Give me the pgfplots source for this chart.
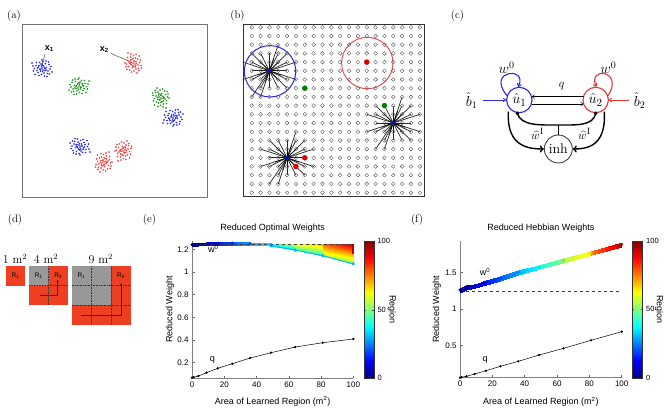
\documentclass[border=0pt]{standalone}
\usepackage{pgfplots}
\pgfplotsset{compat=1.18}
\usepackage{pgfplotstable}
\usepackage{fontspec}
\newfontfamily\hv{Liberation Sans}
\usetikzlibrary{arrows.meta}
\definecolor{dred}{RGB}{238,64,32}
\definecolor{sqgray}{RGB}{152,152,152}
\definecolor{cblue}{RGB}{40,40,235}
\definecolor{cred}{RGB}{232,52,52}
\definecolor{pblue}{RGB}{45,45,240}
\definecolor{pred}{RGB}{240,70,70}
\definecolor{pgreen}{RGB}{40,150,40}
\definecolor{ecyan}{rgb}{0,0.72,1}
\definecolor{dkred}{rgb}{0.7,0,0}
\pgfplotsset{/pgf/number format/assume math mode=true}
\newcommand{\tf}{\hv\fontsize{8}{9}\selectfont}
\newcommand{\lf}{\hv\fontsize{9}{10}\selectfont}

% cluster offsets (px)
\pgfplotstableread{
dx dy
0 0
1.5 -2
-2 1
3 2.5
-3.5 -1
0.5 3.5
-1 -4
4.5 -0.5
-5 2.5
2 5
-2.5 -5.5
6 3
-6 -2.5
1 -6.5
-0.5 6.5
7 -3.5
-7.5 0.5
3.5 -4.5
-4 4.5
5.5 5.5
-5.5 -5.5
8 1
-8.5 3
0 -8
2.5 8
-3 7.5
4 -7
9 -1.5
-9 -2
6.5 -6
-1.5 1.5
2.5 -0.5
-0.5 -2
1 2
-3 -2.5
3 0.5
-1.5 3
0.5 -3
4 2
-4.5 0
10 4
-7 6.5
5 8.5
-10 -5
7.5 6
}\clofs

% star line offsets (px)
\pgfplotstableread{
u v
8.85 0
-8.85 0
0 8.7
0 -8.7
8.85 8.7
8.85 -8.7
-8.85 8.7
-8.85 -8.7
17.7 0
-17.7 0
0 17.4
0 -17.4
17.7 8.7
17.7 -8.7
-17.7 8.7
-17.7 -8.7
8.85 17.4
8.85 -17.4
-8.85 17.4
-8.85 -17.4
26.55 8.7
-26.55 -8.7
8.85 -26.1
-8.85 26.1
26.55 -8.7
-17.7 26.1
17.7 17.4
-17.7 -17.4
-26.55 8.7
17.7 -17.4
4.4 -12
-12 4.4
12 4.4
-4.4 12
}\starofs

% grid columns (px)
\pgfplotstableread{
x y
251.7 0
260.55 0
269.4 0
278.25 0
287.1 0
295.95 0
304.8 0
313.65 0
322.5 0
331.35 0
340.2 0
349.05 0
357.9 0
366.75 0
375.6 0
384.45 0
393.3 0
402.15 0
411.0 0
419.85 0
}\gridx

\begin{document}
\begin{tikzpicture}
% ================= overlay axis for panels a-d =================
\begin{axis}[at={(0pt,0pt)}, anchor=south west, scale only axis,
  width=664pt, height=408pt, xmin=0, xmax=664, ymin=0, ymax=408,
  y dir=reverse, hide axis, clip=false]
% panel labels
\node[font=\fontsize{11}{12}\selectfont] at (axis cs:14,16) {(a)};
\node[font=\fontsize{11}{12}\selectfont] at (axis cs:237.5,16) {(b)};
\node[font=\fontsize{11}{12}\selectfont] at (axis cs:457.5,16) {(c)};
\node[font=\fontsize{11}{12}\selectfont] at (axis cs:15,219.7) {(d)};
\node[font=\fontsize{11}{12}\selectfont] at (axis cs:149.5,219.7) {(e)};
\node[font=\fontsize{11}{12}\selectfont] at (axis cs:417,219.7) {(f)};

% ---- (a) ----
\addplot[black!55, line width=0.8pt] coordinates {(22.7,24) (207,24) (207,197) (22.7,197) (22.7,24)};
\addplot[only marks, mark=*, mark size=0.55pt, pblue] table[x expr=\thisrow{dx}+42, y expr=\thisrow{dy}+68] {\clofs};
\addplot[only marks, mark=*, mark size=0.55pt, pgreen] table[x expr=-\thisrow{dx}+79, y expr=\thisrow{dy}+86] {\clofs};
\addplot[only marks, mark=*, mark size=0.55pt, pred] table[x expr=\thisrow{dy}+133, y expr=\thisrow{dx}+63] {\clofs};
\addplot[only marks, mark=*, mark size=0.55pt, pgreen] table[x expr=-\thisrow{dy}+161, y expr=-\thisrow{dx}+98] {\clofs};
\addplot[only marks, mark=*, mark size=0.55pt, pblue] table[x expr=\thisrow{dx}+173, y expr=-\thisrow{dy}+118] {\clofs};
\addplot[only marks, mark=*, mark size=0.55pt, pblue] table[x expr=-\thisrow{dx}+80, y expr=-\thisrow{dy}+147] {\clofs};
\addplot[only marks, mark=*, mark size=0.55pt, pred] table[x expr=\thisrow{dy}+123, y expr=-\thisrow{dx}+151] {\clofs};
\addplot[only marks, mark=*, mark size=0.55pt, pred] table[x expr=-\thisrow{dy}+104, y expr=\thisrow{dx}+162] {\clofs};
\addplot[black!60, line width=0.6pt] coordinates {(45,54) (41.5,67)};
\addplot[black!60, line width=0.6pt] coordinates {(111,53.5) (131,62)};
\node[font=\hv\bfseries\fontsize{9}{10}\selectfont] at (axis cs:49.3,48.3) {x\textsubscript{1}};
\node[font=\hv\bfseries\fontsize{9}{10}\selectfont] at (axis cs:104.3,50) {x\textsubscript{2}};

% ---- (b) ----
\pgfplotsinvokeforeach{27.3,36.0,44.7,53.4,62.1,70.8,79.5,88.2,96.9,105.6,114.3,123.0,131.7,140.4,149.1,157.8,166.5,175.2,183.9,192.6}{
  \addplot[only marks, mark=o, mark size=1.9pt, black!65, mark options={line width=0.4pt}] table[x=x, y expr=#1] {\gridx};
}
\addplot[black!80, line width=0.8pt] coordinates {(243.3,24.3) (424,24.3) (424,196.7) (243.3,196.7) (243.3,24.3)};
\addplot[black, opacity=0.85, line width=0.7pt, quiver={u=\thisrow{u}, v=\thisrow{v}}] table[x expr=269.4, y expr=70.8] {\starofs};
\addplot[black, opacity=0.85, line width=0.7pt, quiver={u=\thisrow{u}, v=\thisrow{v}}] table[x expr=393.3, y expr=123.0] {\starofs};
\addplot[black, opacity=0.85, line width=0.7pt, quiver={u=\thisrow{u}, v=\thisrow{v}}] table[x expr=287.1, y expr=157.8] {\starofs};
\draw[cblue, line width=1pt] (axis cs:270,71.3) circle[radius=25.7pt];
\draw[cred!85, line width=1pt] (axis cs:367.3,63) circle[radius=25.7pt];
\addplot[only marks, mark=*, mark size=2.5pt, red!85!black] coordinates {(366.75,62.1) (304.8,157.8) (295.95,166.5)};
\addplot[only marks, mark=*, mark size=2.5pt, green!50!black] coordinates {(304.8,88.2) (384.45,105.6)};
\addplot[only marks, mark=*, mark size=1.6pt, blue] coordinates {(269.4,70.8) (393.3,123.0) (287.1,157.8)};

% ---- (c) ----
\node[circle, draw=cblue, line width=1.1pt, minimum size=25.4pt, inner sep=0pt, font=\fontsize{15}{15}\selectfont] (u1) at (axis cs:519.3,100) {$\hat{u}_1$};
\node[circle, draw=cred, line width=1.1pt, minimum size=25.4pt, inner sep=0pt, font=\fontsize{15}{15}\selectfont] (u2) at (axis cs:595.7,100) {$\hat{u}_2$};
\node[circle, draw=black!75, line width=0.9pt, minimum size=28pt, inner sep=0pt, font=\fontsize{14}{14}\selectfont] (inh) at (axis cs:558.3,149) {inh};
\draw[cblue, line width=1.1pt, -{To[length=3.5pt,width=5pt]}] (u1.160) .. controls (axis cs:486,70) and (axis cs:528,66) .. (u1.95);
\draw[cred, line width=1.1pt, -{To[length=3.5pt,width=5pt]}] (u2.20) .. controls (axis cs:624,70) and (axis cs:588,66) .. (u2.88);
\node[font=\fontsize{14}{14}\selectfont] at (axis cs:506.7,68) {$w^0$};
\node[font=\fontsize{14}{14}\selectfont] at (axis cs:608.3,68) {$w^0$};
\draw[line width=0.5pt, -{To[length=3pt,width=4pt]}] (axis cs:583.5,96.7) -- (axis cs:531.8,96.7);
\draw[line width=0.5pt, -{To[length=3pt,width=4pt]}] (axis cs:531.8,104) -- (axis cs:583.5,104);
\node[font=\fontsize{13}{13}\selectfont] at (axis cs:561.7,86.5) {$q$};
\node[font=\fontsize{14}{14}\selectfont] at (axis cs:471.5,100.7) {$\hat{b}_1$};
\node[font=\fontsize{14}{14}\selectfont] at (axis cs:639.5,100.7) {$\hat{b}_2$};
\draw[cblue, line width=0.8pt, -{To[length=3pt,width=4pt]}] (axis cs:483,100) -- (u1.west);
\draw[cred, line width=0.8pt, -{To[length=3pt,width=4pt]}] (axis cs:628.5,100) -- (u2.east);
\draw[line width=1.4pt] (axis cs:517.3,113.3) .. controls (axis cs:521,126) and (axis cs:540,125) .. (axis cs:558.3,125) .. controls (axis cs:577,125) and (axis cs:593,126) .. (axis cs:595.7,113.3);
\fill (axis cs:517.3,113.3) circle[radius=1.9pt];
\fill (axis cs:595.7,113.3) circle[radius=1.9pt];
\draw[line width=1pt] (axis cs:558.3,125) -- (inh.north);
\draw[line width=1.4pt, -{To[length=4pt,width=7pt]}] (axis cs:508.3,111.7) .. controls (axis cs:507,142) and (axis cs:522,149) .. (inh.west);
\draw[line width=1.4pt, -{To[length=4pt,width=7pt]}] (axis cs:604.3,111.7) .. controls (axis cs:606,142) and (axis cs:592,149) .. (inh.east);
\node[font=\fontsize{13}{13}\selectfont] at (axis cs:537.5,134) {$\widehat{w}^{\mathrm{I}}$};
\node[font=\fontsize{13}{13}\selectfont] at (axis cs:584.5,134) {$\widehat{w}^{\mathrm{I}}$};

% ---- (d) ----
\addplot[fill=dred, draw=none] coordinates {(5.7,266) (25.3,266) (25.3,285.7) (5.7,285.7)} -- cycle;
\addplot[fill=dred, draw=none] coordinates {(29,266) (68,266) (68,305) (29,305)} -- cycle;
\addplot[fill=sqgray, draw=none] coordinates {(29,266) (48.5,266) (48.5,285.5) (29,285.5)} -- cycle;
\addplot[fill=dred, draw=none] coordinates {(71.7,266) (130.7,266) (130.7,325) (71.7,325)} -- cycle;
\addplot[fill=sqgray, draw=none] coordinates {(71.7,266) (111,266) (111,305.3) (71.7,305.3)} -- cycle;
\addplot[black!80, densely dotted, line width=0.6pt] coordinates {(48.5,266) (48.5,305)};
\addplot[black!80, densely dotted, line width=0.6pt] coordinates {(29,285.5) (68,285.5)};
\addplot[black!80, densely dotted, line width=0.6pt] coordinates {(91.3,266) (91.3,325)};
\addplot[black!80, densely dotted, line width=0.6pt] coordinates {(111,266) (111,325)};
\addplot[black!80, densely dotted, line width=0.6pt] coordinates {(71.7,285.7) (130.7,285.7)};
\addplot[black!80, densely dotted, line width=0.6pt] coordinates {(71.7,305.3) (130.7,305.3)};
\addplot[black!85, line width=0.6pt, -{To[length=2pt,width=2.5pt]}] coordinates {(40,295) (57.7,295) (57.7,280)};
\addplot[black!85, line width=0.6pt, -{To[length=2pt,width=2.5pt]}] coordinates {(81,315.7) (121,315.7) (121,283.3)};
\node[font=\hv\fontsize{6.5}{7}\selectfont] at (axis cs:15.5,276) {R\textsubscript{1}};
\node[font=\hv\fontsize{6.5}{7}\selectfont] at (axis cs:38.8,276) {R\textsubscript{1}};
\node[font=\hv\fontsize{6.5}{7}\selectfont] at (axis cs:58.3,276) {R\textsubscript{4}};
\node[font=\hv\fontsize{6.5}{7}\selectfont] at (axis cs:81.5,276) {R\textsubscript{1}};
\node[font=\hv\fontsize{6.5}{7}\selectfont] at (axis cs:121,276) {R\textsubscript{9}};
\node[font=\fontsize{12}{12}\selectfont] at (axis cs:15,259) {1 m$^2$};
\node[font=\fontsize{12}{12}\selectfont] at (axis cs:46,259) {4 m$^2$};
\node[font=\fontsize{12}{12}\selectfont] at (axis cs:100.7,259) {9 m$^2$};
\end{axis}

% ================= (e) =================
\begin{axis}[at={(192pt,29.7pt)}, anchor=south west, scale only axis,
  width=161.3pt, height=137.3pt,
  xmin=0, xmax=100, ymin=0.062, ymax=1.274,
  axis x line*=bottom, axis y line*=left,
  axis line style={black!50, line width=0.6pt},
  xtick={0,20,40,60,80,100}, ytick={0.2,0.4,0.6,0.8,1,1.2},
  tick align=inside, major tick length=2.5pt, tick style={black!60, line width=0.5pt},
  tick label style={font=\tf},
  label style={font=\lf},
  title={Reduced Optimal Weights},
  title style={font=\lf, at={(axis description cs:0.5,1.049)}, anchor=center, yshift=0pt},
  xlabel={Area of Learned Region (m\textsuperscript{2})},
  xlabel style={at={(axis description cs:0.5,-0.17)}, anchor=center},
  ylabel={Reduced Weight},
  ylabel style={at={(axis description cs:-0.136,0.5)}, anchor=center},
  colormap/jet, point meta min=0, point meta max=100,
  colorbar,
  colorbar style={at={(parent axis.north east)}, anchor=north west, xshift=2.5pt,
    scale only axis, width=9.7pt, height=137.3pt,
    ytick={0,50,100}, yticklabel pos=right,
    tick align=inside, major tick length=2pt, tick style={black!70},
    tick label style={font=\hv\fontsize{7.5}{8}\selectfont},
    ylabel={Region},
    every axis y label/.style={at={(axis description cs:2.85,0.5)}, rotate=-90, anchor=center, font=\lf},
    axis line style={black!80}},
  clip=false]
% wedges
\addplot[patch, shader=interp, point meta=explicit] table[meta=c] {
x y c
49 1.232 32
64 1.194 34
64 1.244 58
49 1.232 32
64 1.244 58
49 1.247 38
64 1.194 45
81 1.145 42
81 1.244 70
64 1.194 45
81 1.244 70
64 1.244 62
81 1.145 55
100 1.072 50
100 1.244 92
81 1.145 55
100 1.244 92
81 1.244 78
};
% left band
\addplot[patch, shader=interp, point meta=explicit] table[meta=c] {
x y c
0 1.228 0
1 1.229 1
1 1.255 1
0 1.228 0
1 1.255 1
0 1.254 0
1 1.229 2
4 1.232 4
4 1.258 4
1 1.229 2
4 1.258 4
1 1.255 2
4 1.232 5
9 1.236 8
9 1.262 8
4 1.232 5
9 1.262 8
4 1.258 5
9 1.236 9
16 1.240 13
16 1.266 13
9 1.236 9
16 1.266 13
9 1.262 9
16 1.240 15
25 1.242 20
25 1.268 20
16 1.240 15
25 1.268 20
16 1.266 15
25 1.242 22
36 1.239 28
36 1.265 28
25 1.242 22
36 1.265 28
25 1.268 22
36 1.239 30
49 1.227 36
49 1.253 36
36 1.239 30
49 1.253 36
36 1.265 30
};
\addplot[ecyan, line width=1pt, mark=*, mark size=1.1pt] coordinates {(49,1.232) (64,1.194) (81,1.145) (100,1.072)};
\addplot[dkred, line width=2.2pt] coordinates {(100,1.155) (100,1.244)};
\addplot[scatter, only marks, mark=*, mark size=1.3pt, point meta=explicit] table[meta=c] {
x y c
0 1.241 0
1 1.242 1
4 1.245 3
9 1.249 6
16 1.253 10
25 1.255 15
36 1.252 22
49 1.240 28
};
\addplot[black!75, dashed, line width=0.6pt] coordinates {(0,1.244) (100,1.244)};
\addplot[black, line width=0.5pt, mark=*, mark size=0.9pt] coordinates {
(0,0.068) (1,0.072) (4,0.082) (9,0.112) (16,0.150) (25,0.191) (36,0.241) (49,0.288) (64,0.338) (81,0.376) (100,0.409)};
\node[font=\lf] at (axis cs:13.2,1.205) {w\textsuperscript{0}};
\node[font=\lf] at (axis cs:12.6,0.223) {q};
\end{axis}

% ================= (f) =================
\begin{axis}[at={(460pt,30.3pt)}, anchor=south west, scale only axis,
  width=161.7pt, height=136.7pt,
  xmin=0, xmax=100, ymin=0.062, ymax=1.934,
  axis x line*=bottom, axis y line*=left,
  axis line style={black!50, line width=0.6pt},
  xtick={0,20,40,60,80,100}, ytick={0.5,1,1.5},
  tick align=inside, major tick length=2.5pt, tick style={black!60, line width=0.5pt},
  tick label style={font=\tf},
  label style={font=\lf},
  title={Reduced Hebbian Weights},
  title style={font=\lf, at={(axis description cs:0.5,1.049)}, anchor=center, yshift=0pt},
  xlabel={Area of Learned Region (m\textsuperscript{2})},
  xlabel style={at={(axis description cs:0.5,-0.176)}, anchor=center},
  ylabel={Reduced Weight},
  ylabel style={at={(axis description cs:-0.144,0.5)}, anchor=center},
  colormap/jet, point meta min=0, point meta max=100,
  colorbar,
  colorbar style={at={(parent axis.north east)}, anchor=north west, xshift=2pt,
    scale only axis, width=10.4pt, height=136.7pt,
    ytick={0,50,100}, yticklabel pos=right,
    tick align=inside, major tick length=2pt, tick style={black!70},
    tick label style={font=\hv\fontsize{7.5}{8}\selectfont},
    ylabel={Region},
    every axis y label/.style={at={(axis description cs:2.6,0.5)}, rotate=-90, anchor=center, font=\lf},
    axis line style={black!80}},
  clip=false]
\addplot[black!75, dashed, line width=0.6pt] coordinates {(0,1.24) (100,1.24)};
\addplot[patch, shader=interp, point meta=explicit] table[meta=c] {
x y c
0 1.233 0
1 1.240 1
1 1.300 1
0 1.233 0
1 1.300 1
0 1.293 0
1 1.240 2
4 1.265 4
4 1.325 4
1 1.240 2
4 1.325 4
1 1.300 2
4 1.265 5
9 1.292 8
9 1.352 8
4 1.265 5
9 1.352 8
4 1.325 5
9 1.292 9
16 1.338 13
16 1.398 13
9 1.292 9
16 1.398 13
9 1.352 9
16 1.338 15
25 1.393 20
25 1.453 20
16 1.338 15
25 1.453 20
16 1.398 15
25 1.393 22
36 1.475 28
36 1.535 28
25 1.393 22
36 1.535 28
25 1.453 22
36 1.475 30
49 1.548 38
49 1.608 38
36 1.475 30
49 1.608 38
36 1.535 30
49 1.548 40
64 1.635 50
64 1.695 50
49 1.548 40
64 1.695 50
49 1.608 40
64 1.635 55
81 1.740 64
81 1.800 64
64 1.635 55
81 1.800 64
64 1.695 55
81 1.740 75
100 1.858 95
100 1.918 95
81 1.740 75
100 1.918 95
81 1.800 75
};
\addplot[scatter, only marks, mark=*, mark size=1.3pt, point meta=explicit] table[meta=c] {
x y c
0 1.263 0
1 1.270 1
4 1.295 4
9 1.322 8
16 1.368 13
25 1.423 20
36 1.505 28
49 1.578 38
64 1.665 50
81 1.770 64
100 1.888 95
};
\addplot[black, line width=0.5pt, mark=*, mark size=0.9pt] coordinates {
(0,0.062) (1,0.068) (4,0.081) (9,0.112) (16,0.158) (25,0.218) (36,0.286) (49,0.373) (64,0.464) (81,0.574) (100,0.692)};
\node[font=\lf] at (axis cs:15.5,1.51) {w\textsuperscript{0}};
\node[font=\lf] at (axis cs:15.5,0.30) {q};
\end{axis}
\pgfresetboundingbox
\path[use as bounding box] (0pt,0pt) rectangle (664pt,408pt);
\end{tikzpicture}
\end{document}
